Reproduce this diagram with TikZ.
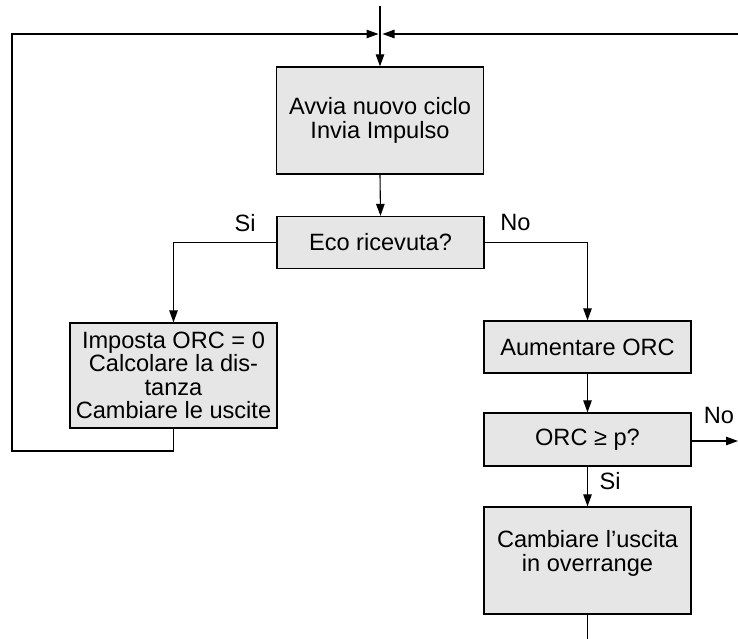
\documentclass[tikz,border=0pt]{standalone}
\usepackage{fontspec}
\setmainfont{Liberation Sans}
\usetikzlibrary{arrows.meta}
\definecolor{boxfill}{HTML}{E6E6E6}
\tikzset{
  box/.style={draw=black, fill=boxfill, line width=1.3pt, minimum width=207pt, inner sep=0pt, align=center,
    font=\fontsize{23.6}{23.5}\selectfont},
  lbl/.style={inner sep=0pt, font=\fontsize{23.6}{23.5}\selectfont},
  conn/.style={line width=1.1pt, draw=black},
  arr/.style={conn, -{Triangle[length=12pt,width=8.5pt]}}
}
\begin{document}
\begin{tikzpicture}[x=1pt,y=-1pt]
\useasboundingbox (0,0) rectangle (738,639);
\node[box, minimum height=107pt] (b1) at (380,120.5) {Avvia nuovo ciclo\\Invia Impulso};
\node[box, minimum height=52pt] (b2) at (380.5,242.5) {Eco ricevuta?};
\node[box, minimum height=105pt] (b3) at (173.5,375.5) {Imposta ORC = 0\\Calcolare la dis-\\tanza\\Cambiare le uscite};
\node[box, minimum height=52pt] (b4) at (587.5,347) {Aumentare ORC};
\node[box, minimum height=53pt] (b5) at (587.5,439.5) {ORC ≥ p?};
\node[box, minimum height=107pt] (b6) at (587.5,560.5) {};
\node[lbl, align=center] (t6) at (587.5,553.5) {Cambiare l’uscita\\in overrange};

\node[lbl] (si1) at (245,223.5) {Si};
\node[lbl] (no1) at (515.5,222.5) {No};
\node[lbl] (no2) at (719,415.5) {No};
\node[lbl] (si2) at (610,481.5) {Si};

\coordinate (top) at (380,6);
\coordinate (jl) at (378.5,34);
\coordinate (jr) at (382.5,34);
\coordinate (re) at (738,34);
\coordinate (lb) at (12,451);
\coordinate (noend) at (738,441);
\coordinate (bot) at (587.5,639);

\draw[arr] (top) -- (b1.north);
\draw[arr] (re) -- (jr);
\draw[arr] (b3.south) -- (b3.south |- lb) -- (lb) -- (lb |- jl) -- (jl);
\draw[arr] (b1.south) -- (b2.north);
\draw[arr] (b2.west) -| (b3.north);
\draw[arr] (b2.east) -| (b4.north);
\draw[arr] (b4.south) -- (b5.north);
\draw[arr] (b5.east |- noend) -- (noend);
\draw[arr] (b5.south) -- (b6.north);
\draw[conn] (b6.south) -- (bot);
\end{tikzpicture}
\end{document}
